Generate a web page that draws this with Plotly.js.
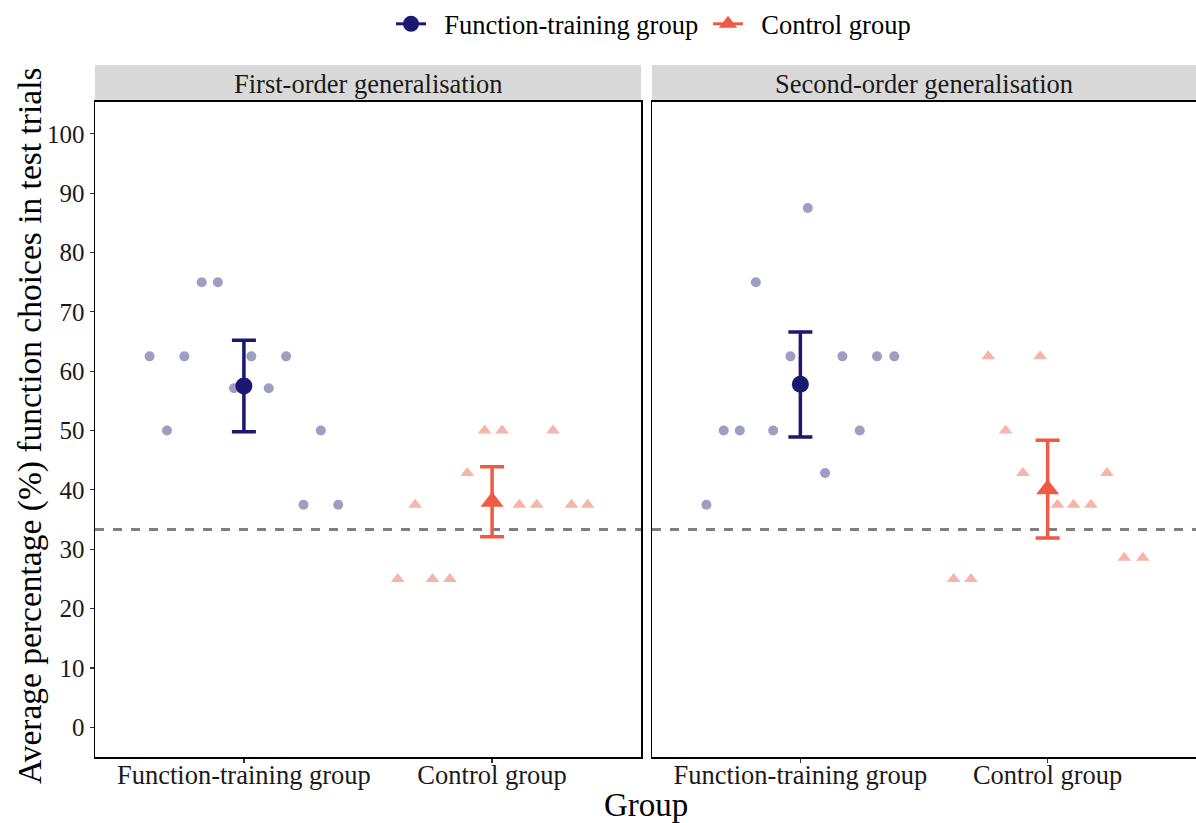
<!DOCTYPE html>
<html>
<head>
<meta charset="utf-8">
<script src="https://cdn.plot.ly/plotly-3.0.1.min.js"></script>
<style>html,body{margin:0;padding:0;background:#fff;}#chart{width:1196px;height:823px;}</style>
</head>
<body>
<div id="chart"></div>
<script>
// ---- data ----
const categories = ["Function-training group", "Control group"];
const panels = ["First-order generalisation", "Second-order generalisation"];
const chanceLevel = 33.33;

// First-order generalisation: individual scores and horizontal jitter
const firstFT = [62.5, 62.5, 75, 75, 62.5, 62.5, 57.14, 57.14, 50, 50, 37.5, 37.5];
const firstFTJitter = [-0.38, -0.24, -0.17, -0.105, 0.03, 0.17, -0.04, 0.10, -0.31, 0.31, 0.24, 0.38];
const firstCtrl = [50, 50, 50, 42.86, 37.5, 37.5, 37.5, 37.5, 37.5, 25, 25, 25];
const firstCtrlJitter = [-0.03, 0.04, 0.245, -0.10, -0.31, 0.11, 0.18, 0.32, 0.385, -0.38, -0.24, -0.17];

// Second-order generalisation
const secondFT = [87.5, 75, 62.5, 62.5, 62.5, 62.5, 50, 50, 50, 50, 42.86, 37.5];
const secondFTJitter = [0.03, -0.18, -0.04, 0.17, 0.31, 0.38, -0.31, -0.245, -0.11, 0.24, 0.10, -0.38];
const secondCtrl = [62.5, 62.5, 50, 42.86, 42.86, 37.5, 37.5, 37.5, 28.57, 28.57, 25, 25];
const secondCtrlJitter = [-0.24, -0.03, -0.17, -0.10, 0.24, 0.04, 0.105, 0.175, 0.31, 0.385, -0.38, -0.31];

// Means and interval bounds [first, second]
const ftMean = [57.5, 57.8];
const ftLow = [49.8, 48.9];
const ftHigh = [65.2, 66.6];
const ctrlMean = [38.0, 40.1];
const ctrlLow = [32.1, 31.9];
const ctrlHigh = [43.9, 48.35];

// ---- styling ----
const FONT = "Liberation Serif";
const navy = "#191970";
const red = "#EE5A42";
const navyLight = "rgba(25,25,112,0.42)";
const redLight = "rgba(238,90,66,0.45)";
const NB = "\u00A0\u00A0";

function jitterX(pos, offs) { return offs.map(o => pos + o); }

const traces = [];
const sets = [
  {ax: ["x", "y"], ft: firstFT, ftj: firstFTJitter, c: firstCtrl, cj: firstCtrlJitter, i: 0},
  {ax: ["x2", "y2"], ft: secondFT, ftj: secondFTJitter, c: secondCtrl, cj: secondCtrlJitter, i: 1}
];
sets.forEach(s => {
  traces.push({type: "scatter", mode: "markers", xaxis: s.ax[0], yaxis: s.ax[1],
    x: jitterX(1, s.ftj), y: s.ft, showlegend: false, hoverinfo: "y",
    marker: {symbol: "circle", size: 10, color: navyLight}});
  traces.push({type: "scatter", mode: "markers", xaxis: s.ax[0], yaxis: s.ax[1],
    x: jitterX(2, s.cj), y: s.c, showlegend: false, hoverinfo: "y",
    marker: {symbol: "triangle-up", size: 12, color: redLight}});
  traces.push({type: "scatter", mode: "markers", xaxis: s.ax[0], yaxis: s.ax[1],
    x: [1], y: [ftMean[s.i]], showlegend: false,
    error_y: {type: "data", symmetric: false, array: [ftHigh[s.i] - ftMean[s.i]],
      arrayminus: [ftMean[s.i] - ftLow[s.i]], color: navy, thickness: 3.5, width: 12},
    marker: {symbol: "circle", size: 17, color: navy}});
  traces.push({type: "scatter", mode: "markers", xaxis: s.ax[0], yaxis: s.ax[1],
    x: [2], y: [ctrlMean[s.i]], showlegend: false,
    error_y: {type: "data", symmetric: false, array: [ctrlHigh[s.i] - ctrlMean[s.i]],
      arrayminus: [ctrlMean[s.i] - ctrlLow[s.i]], color: red, thickness: 3.5, width: 12},
    marker: {symbol: "triangle-up", size: 20, color: red}});
});
// legend entries
traces.push({type: "scatter", mode: "lines+markers", x: [null], y: [null], name: NB + categories[0],
  line: {color: navy, width: 3}, marker: {symbol: "circle", size: 16, color: navy}});
traces.push({type: "scatter", mode: "lines+markers", x: [null], y: [null], name: NB + categories[1],
  line: {color: red, width: 3}, marker: {symbol: "triangle-up", size: 18, color: red}});

const W = 1196, H = 823, T = 60;
const px = v => v / W, py = v => (H - v) / (H - T);
const leftDom = [px(95), px(641)];
const rightDom = [px(652), 1];
const yDom = [py(757), py(100)];

const xCommon = {range: [0.4, 2.6], tickvals: [1, 2], ticktext: categories,
  showgrid: false, zeroline: false, showline: true, mirror: true, linecolor: "#000", linewidth: 1.5,
  ticks: "outside", ticklen: 4, tickwidth: 1.2, tickcolor: "#333", ticklabelstandoff: -10,
  tickfont: {family: FONT, size: 26.5, color: "#1a1a1a"}, automargin: false, fixedrange: true};
const yCommon = {range: [-5.04, 105.38], tickvals: [0,10,20,30,40,50,60,70,80,90,100],
  showgrid: false, zeroline: false, showline: true, mirror: true, linecolor: "#000", linewidth: 1.5,
  ticks: "outside", ticklen: 4, tickwidth: 1.2, tickcolor: "#333",
  tickfont: {family: FONT, size: 25, color: "#1a1a1a"}, automargin: false, fixedrange: true};

const layout = {
  width: W, height: H,
  margin: {l: 0, r: 0, t: T, b: 0},
  paper_bgcolor: "#fff", plot_bgcolor: "#fff",
  font: {family: FONT, color: "#000"},
  xaxis: Object.assign({}, xCommon, {domain: leftDom, anchor: "y"}),
  xaxis2: Object.assign({}, xCommon, {domain: rightDom, anchor: "y2"}),
  yaxis: Object.assign({}, yCommon, {domain: yDom, anchor: "x"}),
  yaxis2: Object.assign({}, yCommon, {domain: yDom, anchor: "x2", showticklabels: false, ticks: "", mirror: false}),
  showlegend: true,
  legend: {orientation: "h", x: px(708), xanchor: "center", y: py(22), yanchor: "middle",
    font: {family: FONT, size: 26.5, color: "#000"}, itemwidth: 30, entrywidth: 272,
    bgcolor: "rgba(0,0,0,0)"},
  shapes: [
    {type: "rect", xref: "paper", yref: "paper", x0: leftDom[0], x1: leftDom[1], y0: py(100), y1: py(63),
      fillcolor: "#D9D9D9", line: {width: 0}, layer: "below"},
    {type: "rect", xref: "paper", yref: "paper", x0: rightDom[0], x1: rightDom[1], y0: py(100), y1: py(63),
      fillcolor: "#D9D9D9", line: {width: 0}, layer: "below"},
    {type: "line", xref: "x domain", yref: "y", x0: 0, x1: 1, y0: chanceLevel, y1: chanceLevel,
      line: {color: "#808080", width: 3, dash: "dash"}, layer: "below"},
    {type: "line", xref: "x2 domain", yref: "y2", x0: 0, x1: 1, y0: chanceLevel, y1: chanceLevel,
      line: {color: "#808080", width: 3, dash: "dash"}, layer: "below"}
  ],
  annotations: [
    {text: panels[0], xref: "paper", yref: "paper", x: (leftDom[0] + leftDom[1]) / 2, y: py(82),
      xanchor: "center", yanchor: "middle", showarrow: false, font: {family: FONT, size: 26.5, color: "#1a1a1a"}},
    {text: panels[1], xref: "paper", yref: "paper", x: (rightDom[0] + rightDom[1]) / 2, y: py(82),
      xanchor: "center", yanchor: "middle", showarrow: false, font: {family: FONT, size: 26.5, color: "#1a1a1a"}},
    {text: "Group", xref: "paper", yref: "paper", x: px(646), y: py(805),
      xanchor: "center", yanchor: "middle", showarrow: false, font: {family: FONT, size: 33, color: "#000"}},
    {text: "Average percentage (%) function choices in test trials", xref: "paper", yref: "paper",
      x: px(30), y: py(425), textangle: -90, xanchor: "center", yanchor: "middle", showarrow: false,
      font: {family: FONT, size: 33.5, color: "#000"}}
  ]
};

Plotly.newPlot("chart", traces, layout, {displayModeBar: false, staticPlot: true});
</script>
</body>
</html>
